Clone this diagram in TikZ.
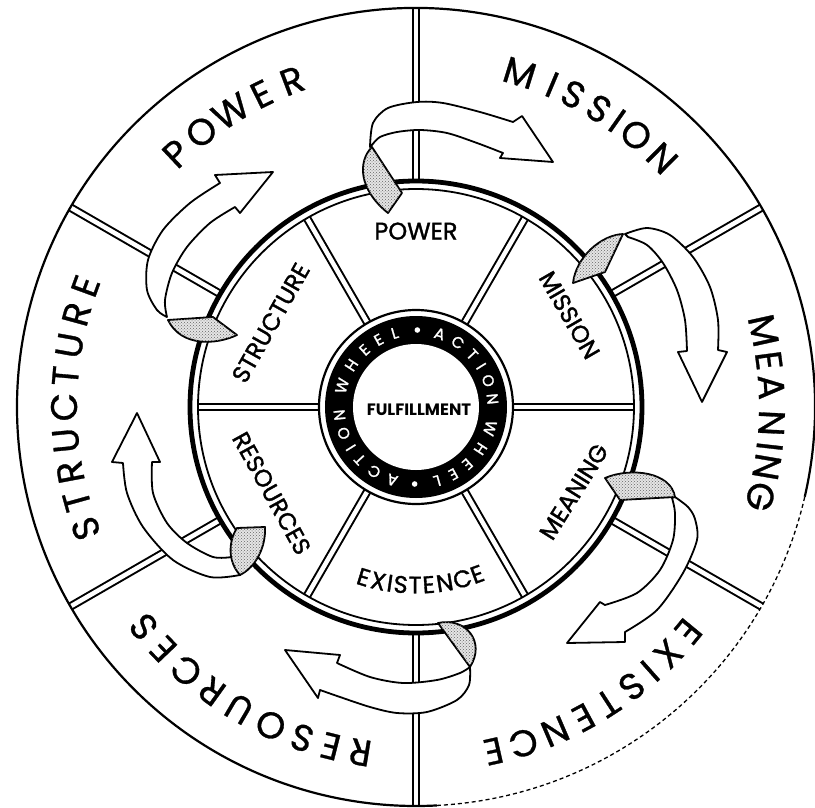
\documentclass[tikz,border=0pt]{standalone}
\usepackage{fontspec}
\setmainfont{Poppins}
\newfontfamily\heavyfont[FakeBold=1.4]{Poppins}
\newfontfamily\midfont[FakeBold=0.8]{Poppins}
\usetikzlibrary{patterns}
\begin{document}
\begin{tikzpicture}[x=1pt,y=1pt,
  outerlet/.style={font=\midfont\fontsize{37}{37}\selectfont, inner sep=0pt, text height=26pt, text depth=0pt},
  innerlab/.style={font=\heavyfont\fontsize{24}{24}\selectfont, inner sep=0pt, text height=17pt, text depth=0pt},
  ringlet/.style={font=\heavyfont\fontsize{15.5}{15.5}\selectfont, text=white, inner sep=0pt, text height=11pt, text depth=0pt},
  ribbon/.style={draw=black, line width=1.8pt, fill=white, line join=round},
  shadepc/.style={draw=black, line width=1.8pt, fill=black!10, line join=round,
    postaction={pattern=crosshatch dots, pattern color=black!60}},
  spokeblack/.style={line width=8.5pt, black},
  spokewhite/.style={line width=4.5pt, white},
]
\useasboundingbox (-416,-400) rectangle (399,407);
\coordinate (c) at (0,0);
% outer spokes
\foreach \a in {90,30,-30,-90,210,150} {
  \draw[spokeblack] (\a:226) -- (\a:399);
  \draw[spokewhite] (\a:223) -- (\a:402);
}
% inner spokes
\foreach \a in {120,60,0,-60,-120,180} {
  \draw[spokeblack] (\a:97) -- (\a:218);
  \draw[spokewhite] (\a:94) -- (\a:221);
}
% circles
\draw[line width=2.2pt] (-13:399) arc[start angle=-13, end angle=273, radius=399];
\draw[line width=1.3pt, dash pattern=on 4pt off 3pt] (273:399) arc[start angle=273, end angle=347, radius=399];
\draw[line width=4.8pt] (c) circle[radius=226];
\draw[line width=1.8pt] (c) circle[radius=218];
\draw[line width=2.2pt] (c) circle[radius=97];
\fill[black] (c) circle[radius=91];
\fill[white] (c) circle[radius=63];

% outer labels
\foreach \ch/\a [count=\i] in {P/133.4,O/127.95,W/122.06,E/116.27,R/110.79}
  \node[outerlet, rotate=\a-90] (opw\i) at (\a:349) {\ch};
\foreach \ch/\a [count=\i] in {M/72.75,I/67.1,S/63.3,S/58.5,I/54.9,O/51.0,N/45.3}
  \node[outerlet, rotate=\a-90] (omi\i) at (\a:350) {\ch};
\foreach \ch/\a [count=\i] in {M/12.4,E/7.5,A/3.2,N/-2.6,I/-6.4,N/-9.7,G/-14.6}
  \node[outerlet, rotate=\a-90] (ome\i) at (\a:356) {\ch};
\foreach \ch/\a [count=\i] in {E/-39.5,X/-44.37,I/-48.43,S/-52.33,T/-57.04,E/-61.67,N/-66.78,C/-72.30,E/-77.33}
  \node[outerlet, rotate=\a-90] (oex\i) at (\a:353) {\ch};
\foreach \ch/\a [count=\i] in {R/-99.2,E/-104.14,S/-109.0,O/-114.52,U/-120.36,R/-125.71,C/-131.06,E/-136.25,S/-141.11}
  \node[outerlet, rotate=\a-90] (ore\i) at (\a:350) {\ch};
\foreach \ch/\a [count=\i] in {S/200.2,T/195.48,R/190.68,U/185.47,C/180.02,T/174.97,U/169.92,R/164.71,E/159.91}
  \node[outerlet, rotate=\a-90] (ost\i) at (\a:352) {\ch};

% inner labels
\node[innerlab] (ipw) at (90:176) {POWER};
\node[innerlab, rotate=-60] (imi) at (30.9:179) {MISSION};
\node[innerlab, rotate=58] (ime) at (-28.2:179) {MEANING};
\node[innerlab, rotate=-61] (ire) at (210.9:168) {RESOURCES};
\node[innerlab, rotate=60.5] (ist) at (149.9:168) {STRUCTURE};
\foreach \ch/\a [count=\i] in {E/-107.1,X/-102.2,I/-98.4,S/-94.9,T/-90.3,E/-85.9,N/-80.7,C/-74.9,E/-69.9}
  \node[innerlab, rotate=\a+90] (iex\i) at (\a:178) {\ch};

% central ring text
\foreach \ch/\a [count=\i] in {W/164,H/147,E/132,E/119,L/106,A/72,C/57,T/43,I/32,O/20,N/6} {
  \node[ringlet, rotate=\a-90] (ra\i) at (\a:77) {\ch};
  \node[ringlet, rotate=\a+90] (rb\i) at ({\a+180}:77) {\ch};
}
\fill[white] (89:77) circle[radius=2.8];
\fill[white] (269:77) circle[radius=2.8];
\node[font=\fontsize{16.5}{16.5}\selectfont\bfseries, inner sep=0pt] (ful) at (3,-3) {FULFILLMENT};

% ribbon arrows
\draw[ribbon] plot[smooth] coordinates {(-46,260) (-43,284) (-28,299) (1,305) (27,304) (64,295) (97,285)} -- (106,291) -- (137,245) -- (84,249) -- (87,254) -- plot[smooth] coordinates {(87,254) (61,264) (31,274) (4,277) (-19,275) (-36,270) (-44,262)} -- cycle;
\draw[shadepc] (-44,260) .. controls (-58,246) and (-58,218) .. (-28,194) -- (-14,214) -- cycle;

\draw[ribbon] plot[smooth] coordinates {(209,173) (231,179) (254,172) (277,150) (294,120) (302,87) (302,57)} -- (311,55) -- (286,5) -- (262,55) -- (271,56) -- plot[smooth] coordinates {(271,56) (269,87) (261,117) (247,144) (231,162) (212,170)} -- cycle;
\draw[shadepc] (157,124) .. controls (160,150) and (185,172) .. (207,173) -- (189,135) -- cycle;

\draw[ribbon] plot[smooth] coordinates {(259,-90) (272,-100) (279,-112) (281,-133) (267,-166) (241,-203) (209,-225)} -- (209,-235) -- (151,-236) -- (184,-195) -- (189,-198) -- plot[smooth] coordinates {(189,-198) (221,-186) (244,-163) (257,-133) (259,-106) (256,-91)} -- cycle;
\draw[shadepc] (189,-71) .. controls (215,-60) and (255,-65) .. (259,-90) -- (204,-93) -- cycle;

\draw[ribbon] plot[smooth] coordinates {(54,-260) (53,-278) (41,-293) (11,-305) (-19,-306) (-46,-300) (-76,-290) (-96,-283)} -- (-98,-291) -- (-131,-243) -- (-76,-248) -- (-79,-256) -- plot[smooth] coordinates {(-79,-256) (-46,-270) (-13,-276) (21,-273) (44,-266) (54,-260)} -- cycle;
\draw[shadepc] (22,-216) .. controls (50,-210) and (70,-235) .. (54,-260) -- cycle;

\draw[ribbon] plot[smooth] coordinates {(-176,-168) (-206,-170) (-243,-153) (-273,-120) (-289,-86) (-293,-56)} -- (-304,-55) -- (-279,-6) -- (-256,-55) -- (-264,-55) -- plot[smooth] coordinates {(-264,-55) (-263,-86) (-249,-116) (-229,-136) (-203,-150) (-184,-150)} -- cycle;
\draw[shadepc] (-179,-121) -- (-151,-120) .. controls (-150,-140) and (-160,-160) .. (-176,-168) .. controls (-188,-155) and (-188,-135) .. cycle;

\draw[ribbon] plot[smooth] coordinates {(-249,90) (-259,97) (-269,117) (-268,147) (-253,177) (-226,204) (-196,224)} -- (-201,232) -- (-143,235) -- (-176,194) -- (-181,200) -- plot[smooth] coordinates {(-181,200) (-206,184) (-229,160) (-244,134) (-251,107) (-249,90)} -- cycle;
\draw[shadepc] (-248,87) -- (-203,90) -- (-179,72) .. controls (-200,62) and (-235,60) .. cycle;
\end{tikzpicture}
\end{document}
